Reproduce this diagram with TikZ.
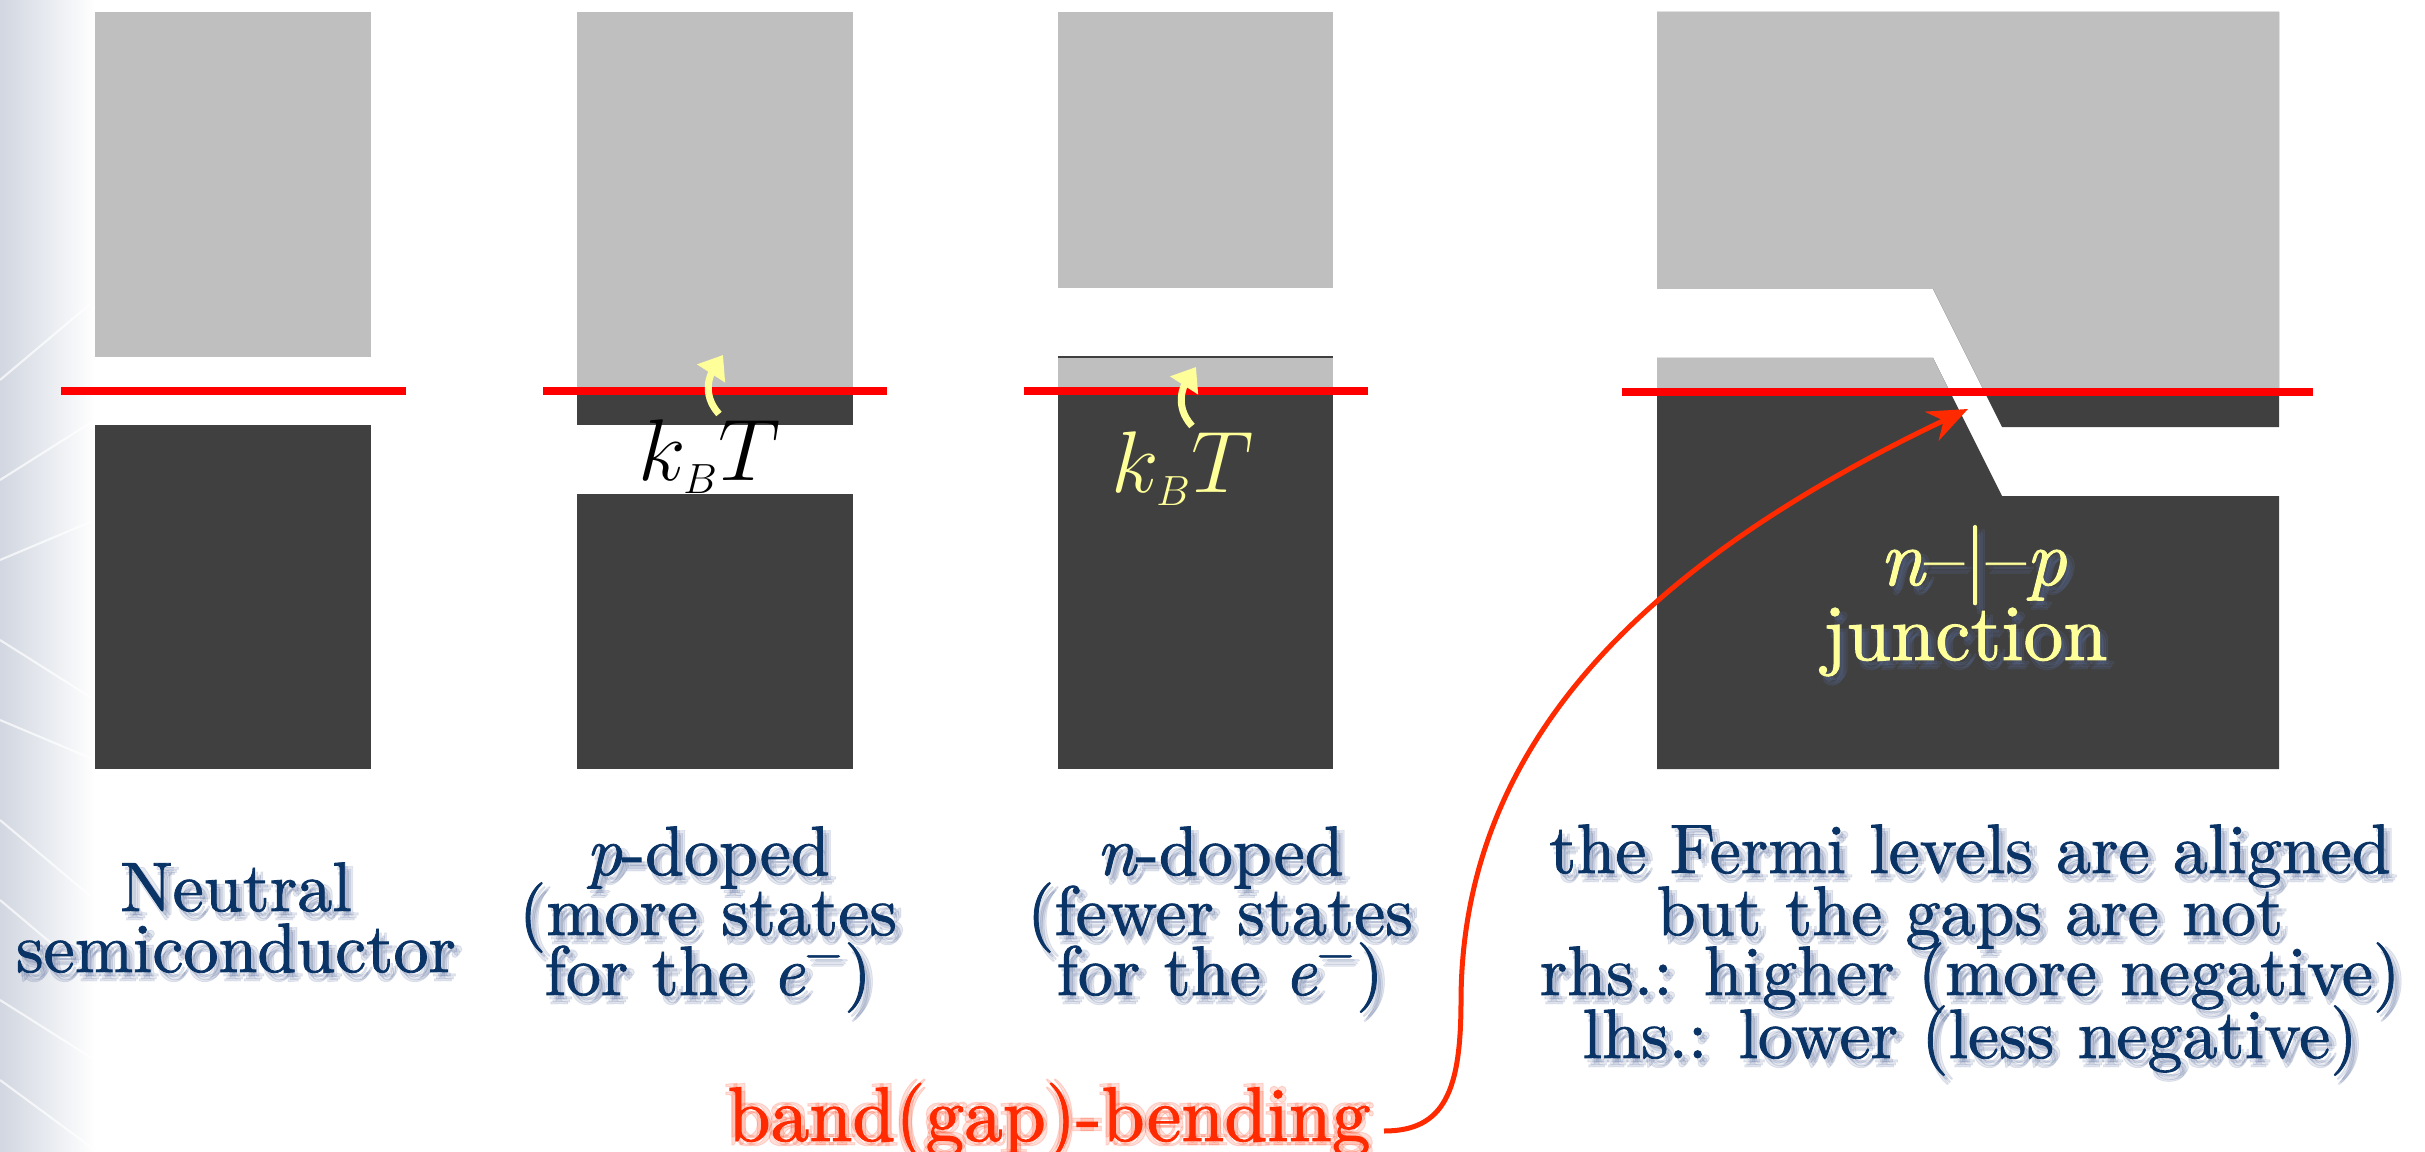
\documentclass[tikz,border=0pt]{standalone}
\usepackage{fontspec}
\setmainfont{lmroman10}[Extension=.otf, UprightFont=*-regular, ItalicFont=*-italic, BoldFont=*-bold, FakeBold=1.2]
\newfontfamily\bendfont{lmroman10}[Extension=.otf, UprightFont=*-regular, FakeBold=1.2]
\usetikzlibrary{arrows.meta}
\definecolor{cband}{HTML}{BFBFBF}
\definecolor{vband}{HTML}{404040}
\definecolor{fermi}{HTML}{FF0000}
\definecolor{navy}{HTML}{0A3366}
\definecolor{yel}{HTML}{FFFF99}
\definecolor{bendc}{HTML}{FF2A00}
\definecolor{shad}{HTML}{5A6E9E}
\definecolor{glowj}{HTML}{5A6C96}
\newcommand\stext[5]{%
  \node[#4, shadowed] (#1-sa) at (#2+3,#3+4) {#5};
  \node[#4, shadowed] (#1-sb) at (#2+6,#3+7) {#5};
  \node[#4, shadowed] (#1-sc) at (#2+8,#3+4) {#5};
  \node[#4, shadowed] (#1-sd) at (#2+4,#3+9) {#5};
  \node[#4] (#1) at (#2,#3) {#5};}
\newcommand\elec{{\itshape e}\textsuperscript{−}}
\begin{document}
\begin{tikzpicture}[x=0.01cm,y=-0.01cm,
  lbl/.style={font=\fontsize{19.9}{17}\selectfont, text=navy, inner sep=0pt, anchor=base},
  shadowed/.style={text=shad, opacity=0.15},
  fermiline/.style={draw=fermi, line width=0.07cm},
  cbfill/.style={fill=cband},
  vbfill/.style={fill=vband},
  kbt/.style={font=\fontsize{23}{23}\selectfont, inner sep=0pt, anchor=base west},
  yarrow/.style={draw=yel, line width=0.07cm, -{Triangle[length=0.22cm,width=0.32cm]}},
  junc/.style={font=\fontsize{22.6}{22.6}\selectfont, text=yel, inner sep=0pt, anchor=base},
  jglow/.style={text=glowj, opacity=0.35},
  bendtxt/.style={font=\bendfont\fontsize{22}{22}\selectfont, text=bendc, inner sep=0pt, anchor=base west},
  bglow/.style={text=bendc, opacity=0.15}
]
\useasboundingbox (0,0) rectangle (2425,1152);
\fill[white] (0,0) rectangle (2425,1152);
% left background strip
\shade[left color={rgb,1:red,0.82;green,0.84;blue,0.88}, right color=white] (0,0) rectangle (95,1152);
\begin{scope}
\clip (0,0) rectangle (95,1152);
\foreach \a/\b in {380/300, 480/420, 560/520, 640/700, 720/760, 820/900, 900/980, 1000/1060, 1080/1150}{
  \draw[white, opacity=0.7, line width=0.6pt] (0,\a) -- (95,\b);
}
\end{scope}

% Panel 1: neutral
\path[cbfill] (95,12) rectangle (371,357);
\path[vbfill] (95,425) rectangle (371,769);
\draw[fermiline] (61,391) -- (406,391);

% Panel 2: p-doped
\path[cbfill] (577,12) rectangle (853,391);
\path[vbfill] (577,391) rectangle (853,425);
\path[vbfill] (577,494) rectangle (853,769);
\draw[fermiline] (543,391) -- (887,391);

% Panel 3: n-doped
\path[cbfill] (1058,12) rectangle (1333,288);
\path[cbfill] (1058,357) rectangle (1333,391);
\draw[vband, line width=0.6pt] (1058,357) -- (1333,357);
\path[vbfill] (1058,391) rectangle (1333,769);
\draw[fermiline] (1024,391) -- (1368,391);

% Panel 4: junction
\path[vbfill] (1657,12) -- (2279,12) -- (2279,427) -- (2002,427) -- (1933,289) -- (1657,289) -- cycle;
\path[vbfill] (1657,358) -- (1933,358) -- (2002,496) -- (2279,496) -- (2279,769) -- (1657,769) -- cycle;
\begin{scope}
\clip (1600,0) rectangle (2400,392);
\path[cbfill] (1657,12) -- (2279,12) -- (2279,427) -- (2002,427) -- (1933,289) -- (1657,289) -- cycle;
\path[cbfill] (1657,358) -- (1933,358) -- (2002,496) -- (2279,496) -- (2279,769) -- (1657,769) -- cycle;
\end{scope}
\draw[fermiline] (1622,392) -- (2313,392);

% kBT labels and arrows
\node[kbt, text=black] (kbt2) at (638,480) {$k_{\scriptscriptstyle B}T$};
\draw[yarrow] (719,414) .. controls (700,393) and (712,372) .. (723,355);
\node[kbt, text=yel] (kbt3) at (1111,492) {$k_{\scriptscriptstyle B}T$};
\draw[yarrow] (1192,426) .. controls (1173,405) and (1185,384) .. (1196,367);

% junction label
\stext{np}{1973}{585}{junc, jglow}{{\itshape n}–\textbar–{\itshape p}}
\node[junc] (np) at (1973,585) {{\itshape n}–\textbar–{\itshape p}};
\stext{jn}{1965}{660}{junc, jglow}{junction}
\node[junc] (jn) at (1965,660) {junction};

% bottom labels
\stext{neu1}{236}{911}{lbl}{Neutral}
\stext{neu2}{236}{972}{lbl}{semiconductor}
\stext{p1}{708}{875}{lbl}{{\itshape p}-doped}
\stext{p2}{708}{935}{lbl}{(more states}
\stext{p3}{708}{995}{lbl}{for the \elec)}
\stext{n1}{1220}{875}{lbl}{{\itshape n}-doped}
\stext{n2}{1220}{935}{lbl}{(fewer states}
\stext{n3}{1220}{995}{lbl}{for the \elec)}
\stext{r1}{1970}{873}{lbl}{the Fermi levels are aligned}
\stext{r2}{1970}{935}{lbl}{but the gaps are not}
\stext{r3}{1970}{995}{lbl}{rhs.: higher (more negative)}
\stext{r4}{1970}{1058}{lbl}{lhs.: lower (less negative)}

% band bending label and arrow
\node[bendtxt, bglow] (bend-g1) at (731,1145) {band(gap)-bending};
\node[bendtxt, bglow] (bend-g2) at (723,1137) {band(gap)-bending};
\node[bendtxt, bglow] (bend-g3) at (731,1137) {band(gap)-bending};
\node[bendtxt, bglow] (bend-g4) at (723,1145) {band(gap)-bending};
\node[bendtxt] (bend) at (727,1141) {band(gap)-bending};
\coordinate (bstart) at (1384,1131);
\coordinate (jtip) at (1968,409);
\draw[bendc, line width=0.05cm, -{Stealth[length=0.4cm,width=0.32cm]}]
  (bstart) .. controls (1445,1131) and (1461,1090) .. (1461,1000)
           .. controls (1462,740) and (1650,560) .. (jtip);
\end{tikzpicture}
\end{document}
